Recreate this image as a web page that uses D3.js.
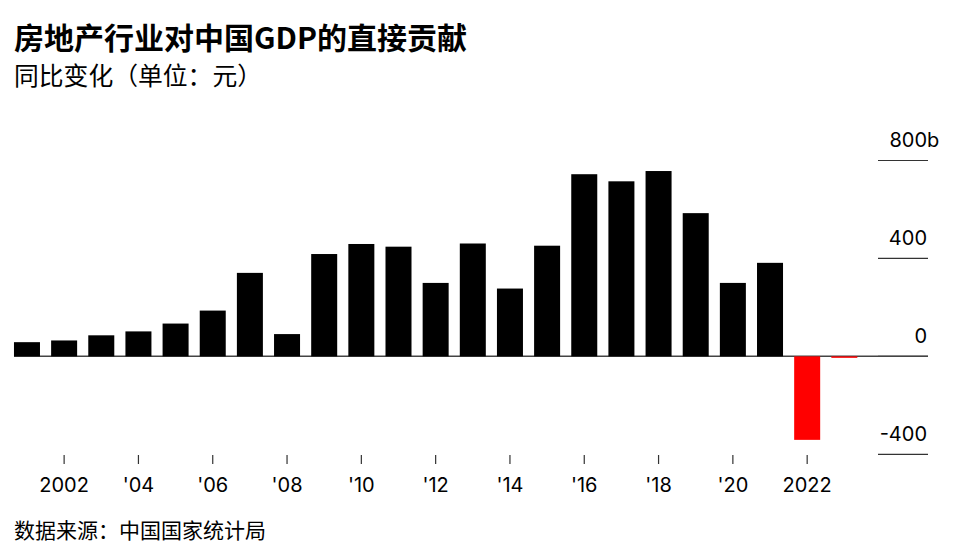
<!DOCTYPE html>
<html>
  <head>
    <meta charset="utf-8" />
    <title>房地产行业对中国GDP的直接贡献</title>
    <script src="https://d3js.org/d3.v7.min.js"></script>
    <style>
        body {
            margin:0;
            background:#fff;
        }
        text {
            fill:#000;
        }
        .cjk {
            font-family:"Noto Sans CJK SC", sans-serif;
        }
        .num {
            font-family:Inter, "Liberation Sans", sans-serif;
            font-size:20px;
        }
    </style>
  </head>
  <body>

    <svg id="viz"></svg>

    <script>
    var width = 960;
    var height = 558;

    // data (billion yuan, year-on-year change)
    var years = [2001, 2002, 2003, 2004, 2005, 2006, 2007, 2008, 2009, 2010, 2011, 2012,
                 2013, 2014, 2015, 2016, 2017, 2018, 2019, 2020, 2021, 2022, 2023];
    var values = [58, 65, 86, 102, 134, 187, 341, 91, 418, 459, 448, 300,
                  461, 277, 452, 744, 715, 757, 585, 300, 382, -341, -6];
    var xTickYears = [2002, 2004, 2006, 2008, 2010, 2012, 2014, 2016, 2018, 2020, 2022];
    var xTickLabels = ["2002", "'04", "'06", "'08", "'10", "'12", "'14", "'16", "'18", "'20", "2022"];
    var yTicks = [-400, 0, 400, 800];
    var yTickLabels = ["-400", "0", "400", "800"];

    var svg = d3.select("#viz")
      .attr("width", width)
      .attr("height", height);

    var x = d3.scaleBand()
      .domain(years)
      .range([8.4, 862.9])
      .paddingInner(0.3)
      .paddingOuter(0.15);

    var y = d3.scaleLinear()
      .domain([-400, 800])
      .range([454.3, 160.5]);

    // titles
    svg.append("text")
      .attr("class", "cjk")
      .attr("x", 14)
      .attr("y", 49)
      .style("font-size", "30px")
      .style("font-weight", "bold")
      .text("房地产行业对中国GDP的直接贡献");

    svg.append("text")
      .attr("class", "cjk")
      .attr("x", 14)
      .attr("y", 85)
      .style("font-size", "24.8px")
      .text("同比变化（单位：元）");

    svg.append("text")
      .attr("class", "cjk")
      .attr("x", 14)
      .attr("y", 538)
      .style("font-size", "21px")
      .text("数据来源：中国国家统计局");

    // y grid on the right
    var grid = svg.append("g");
    grid.selectAll("line")
      .data(yTicks)
      .enter().append("line")
      .attr("x1", 878)
      .attr("x2", 928)
      .attr("y1", function(d){ return y(d); })
      .attr("y2", function(d){ return y(d); })
      .attr("stroke", "#333")
      .attr("stroke-width", 1.2);

    grid.selectAll("text")
      .data(yTicks)
      .enter().append("text")
      .attr("class", "num")
      .attr("x", 927)
      .attr("y", function(d){ return y(d) - 13.5; })
      .attr("text-anchor", "end")
      .text(function(d, i){ return yTickLabels[i]; });

    // unit hangs past the right edge of the top label
    svg.append("text")
      .attr("class", "num")
      .attr("x", 927)
      .attr("y", y(800) - 13.5)
      .text("b");

    // zero line, under the bars
    svg.append("line")
      .attr("x1", 14)
      .attr("x2", 928)
      .attr("y1", y(0))
      .attr("y2", y(0))
      .attr("stroke", "#444")
      .attr("stroke-width", 1.5);

    // bars
    svg.append("g").selectAll("rect")
      .data(values)
      .enter().append("rect")
      .attr("x", function(d, i){ return x(years[i]); })
      .attr("width", x.bandwidth())
      .attr("y", function(d){ return y(Math.max(0, d)); })
      .attr("height", function(d){ return Math.abs(y(d) - y(0)); })
      .attr("fill", function(d){ return d < 0 ? "#ff0000" : "#000"; });

    // x axis
    var xAxis = svg.append("g");
    xAxis.selectAll("line")
      .data(xTickYears)
      .enter().append("line")
      .attr("x1", function(d){ return x(d) + x.bandwidth() / 2; })
      .attr("x2", function(d){ return x(d) + x.bandwidth() / 2; })
      .attr("y1", 455)
      .attr("y2", 464)
      .attr("stroke", "#333")
      .attr("stroke-width", 1.2);

    xAxis.selectAll("text")
      .data(xTickYears)
      .enter().append("text")
      .attr("class", "num")
      .attr("x", function(d){ return x(d) + x.bandwidth() / 2; })
      .attr("y", 492)
      .attr("text-anchor", "middle")
      .text(function(d, i){ return xTickLabels[i]; });
    </script>

  </body>
</html>
